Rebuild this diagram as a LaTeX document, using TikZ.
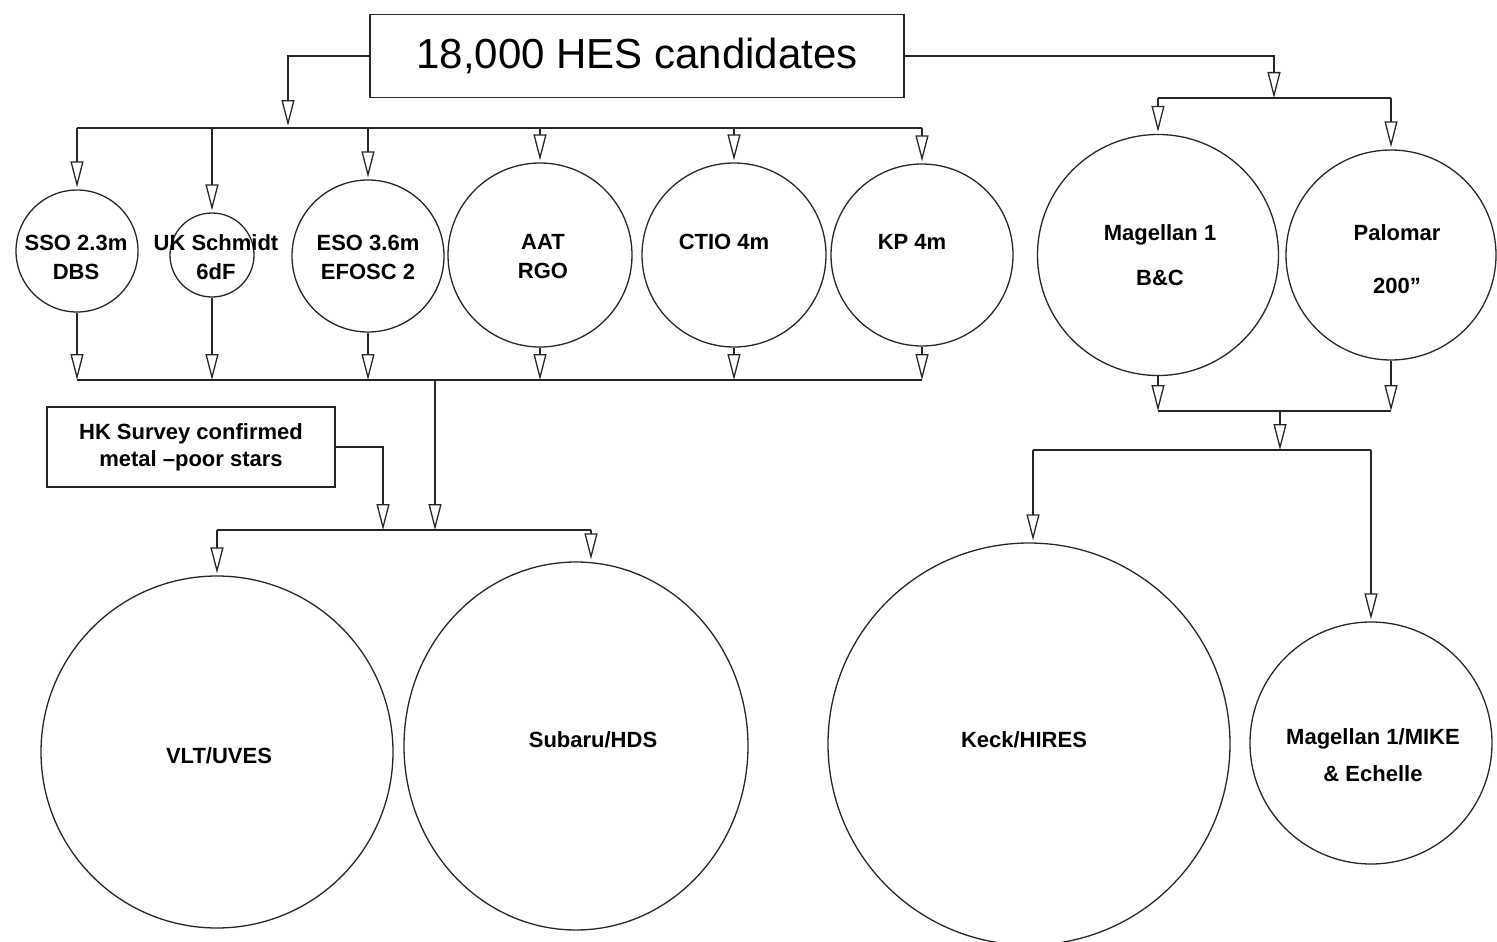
\documentclass[tikz,border=0pt]{standalone}
\usepackage{fontspec}
\setmainfont{Liberation Sans}
\usetikzlibrary{arrows.meta,shapes.geometric}
\begin{document}
\begin{tikzpicture}[x=1pt,y=-1pt,line width=1.3pt,color=black!85,
  arr/.style={-{Triangle[open,length=26pt,width=13pt]},shorten >=2pt},
  circ/.style={circle,draw,minimum size=#1,inner sep=0pt},
  lbl/.style={font=\bfseries\fontsize{22}{29}\selectfont,align=center,text=black},
  boxed/.style={draw,inner sep=0pt}]
\useasboundingbox (0,0) rectangle (1497,942);
% title
\node[boxed,minimum width=534,minimum height=83,font=\fontsize{42}{50}\selectfont,text=black] (title) at (637,56) {18,000 HES candidates};
% top-left circles
\node[circ=122] (sso) at (77,251) {};
\node[circ=84] (uk) at (212,255) {};
\node[circ=152] (eso) at (368,256) {};
\node[circ=184] (aat) at (540,255) {};
\node[circ=184] (ctio) at (734,255) {};
\node[circ=182] (kp) at (922,255) {};
\node[lbl] (ssot) at (76,257) {SSO 2.3m\\DBS};
\node[lbl] (ukt) at (216,257) {UK Schmidt\\6dF};
\node[lbl] (esot) at (368,257) {ESO 3.6m\\EFOSC 2};
\node[lbl] (aatt) at (543,257) {AAT\\RGO};
\node[lbl] (ctiot) at (724,242) {CTIO 4m};
\node[lbl] (kpt) at (912,242) {KP 4m};
% right circles
\node[circ=241] (mag) at (1158,255) {};
\node[circ=210] (pal) at (1391,255) {};
\node[lbl,font=\bfseries\fontsize{22}{45}\selectfont] (magt) at (1160,255) {Magellan 1\\B\&C};
\node[lbl,font=\bfseries\fontsize{22}{53}\selectfont] (palt) at (1397,259) {Palomar\\200''};
% HK box
\node[boxed,minimum width=288,minimum height=80,font=\bfseries\fontsize{22}{27}\selectfont,align=center,text=black] (hk) at (191,447) {HK Survey confirmed\\metal --poor stars};
% bottom circles
\node[circ=352] (vlt) at (217,752) {};
\node[ellipse,draw,minimum width=344,minimum height=368,inner sep=0pt] (sub) at (576,746) {};
\node[circ=402] (keck) at (1029,744) {};
\node[circ=242] (mike) at (1371,743) {};
\node[lbl] (vltt) at (219,756) {VLT/UVES};
\node[lbl] (subt) at (593,740) {Subaru/HDS};
\node[lbl] (keckt) at (1024,740) {Keck/HIRES};
\node[lbl,font=\bfseries\fontsize{22}{37}\selectfont] (miket) at (1373,755) {Magellan 1/MIKE\\\& Echelle};
% left tree
\coordinate (b1) at (288,128);
\coordinate (busL) at (77,128);
\coordinate (busR) at (922,128);
\draw[arr] (title.west) -| (b1);
\draw (busL) -- (busR);
\foreach \n in {sso,uk,eso,aat,ctio,kp} \draw[arr] (\n |- busL) -- (\n.north);
\coordinate (bus2L) at (77,380);
\coordinate (bus2R) at (922,380);
\foreach \n in {sso,uk,eso,aat,ctio,kp} \draw[arr,shorten >=0pt] (\n.south) -- (\n |- bus2L);
\draw (bus2L) -- (bus2R);
\coordinate (j2) at (435,380);
\coordinate (bus3M) at (435,530);
\draw[arr,shorten >=0pt] (j2) -- (bus3M);
\coordinate (hkj) at (383,530);
\draw[arr,shorten >=0pt] (hk.east) -| (hkj);
\coordinate (bus3L) at (217,530);
\coordinate (bus3R) at (591,530);
\draw (bus3L) -- (bus3R);
\draw[arr] (bus3L) -- (vlt.north);
\draw[arr] (bus3R) -- (bus3R |- sub.north);
% right tree
\coordinate (r1) at (1274,98);
\draw[arr,shorten >=0pt] (title.east) -| (r1);
\coordinate (rbL) at (1158,98);
\coordinate (rbR) at (1391,98);
\draw (rbL) -- (rbR);
\draw[arr] (rbL) -- (mag.north);
\draw[arr] (rbR) -- (pal.north);
\coordinate (r2L) at (1158,411);
\coordinate (r2R) at (1391,411);
\draw[arr,shorten >=0pt] (mag.south) -- (r2L);
\draw[arr,shorten >=0pt] (pal.south) -- (r2R);
\draw (r2L) -- (r2R);
\coordinate (r2M) at (1280,411);
\coordinate (r3M) at (1280,450);
\draw[arr,shorten >=0pt] (r2M) -- (r3M);
\coordinate (r3L) at (1033,450);
\coordinate (r3R) at (1371,450);
\draw (r3L) -- (r3R);
\draw[arr] (r3L) -- (r3L |- keck.north);
\draw[arr] (r3R) -- (mike.north);
\end{tikzpicture}
\end{document}
